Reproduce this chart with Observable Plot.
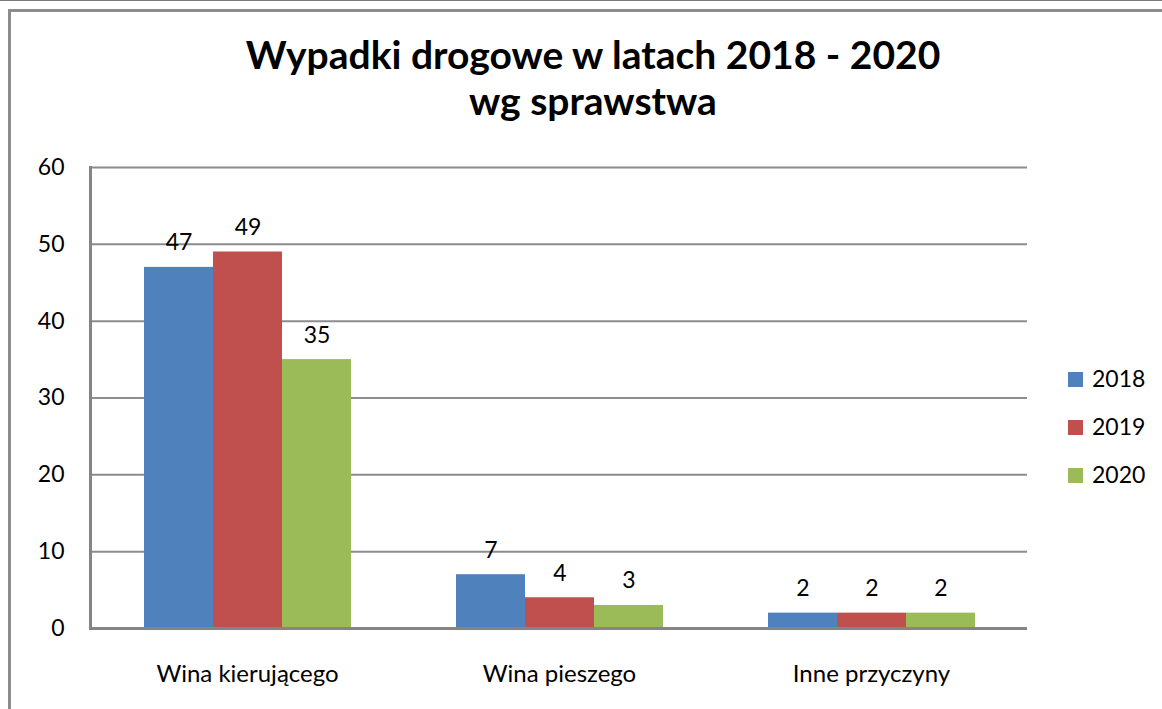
<!DOCTYPE html>
<html>
<head>
<meta charset="utf-8">
<script src="https://cdn.jsdelivr.net/npm/d3@7"></script>
<script src="https://cdn.jsdelivr.net/npm/@observablehq/plot@0.6"></script>
<style>
  html, body { margin: 0; padding: 0; background: #fff; }
  #wrap { position: relative; width: 1162px; height: 709px; overflow: hidden; font-family: Lato, "Open Sans", sans-serif; }
  #topline { position: absolute; left: 0; top: 0; width: 1162px; height: 1px; background: #7a7a7a; }
  #border { position: absolute; left: 8px; top: 9px; width: 1200px; height: 800px; border: 3px solid #8c8c8c; box-sizing: border-box; }
  #title { position: absolute; left: 93px; width: 1000px; top: 31px; text-align: center; font-weight: bold; font-size: 39px; line-height: 46px; color: #000; }
  .layer { position: absolute; left: 0; top: 0; }
  #legend { position: absolute; left: 1068px; top: 364px; font-size: 23px; color: #000; }
  .item { height: 48px; display: flex; align-items: flex-start; }
  .sw { width: 15px; height: 15px; margin-top: 8px; margin-right: 9px; }
</style>
</head>
<body>
<div id="wrap">
  <div id="topline"></div>
  <div id="border"></div>
  <div id="base" class="layer"></div>
  <div id="bars" class="layer"></div>
  <div id="title">Wypadki drogowe w latach 2018 - 2020<br>wg sprawstwa</div>
  <div id="legend"></div>
</div>
<script>
const categories = ["Wina kierującego", "Wina pieszego", "Inne przyczyny"];
const years = ["2018", "2019", "2020"];
const values2018 = [47, 7, 2];
const values2019 = [49, 4, 2];
const values2020 = [35, 3, 2];
const yTicks = [0, 10, 20, 30, 40, 50, 60];
const colors = ["#4F81BD", "#C0504D", "#9BBB59"];

const series = [values2018, values2019, values2020];
const data = categories.flatMap((c, i) => years.map((y, j) => ({category: c, year: y, value: series[j][i]})));

const common = {
  width: 1162,
  height: 709,
  marginLeft: 90,
  marginRight: 135,
  marginTop: 167,
  marginBottom: 81,
  style: {fontFamily: "Lato, 'Open Sans', sans-serif", fontSize: "23px", color: "#000", background: "transparent", overflow: "visible"},
  y: {domain: [0, 60], axis: null}
};

// Base layer: grid, axes, category labels
const base = Plot.plot({
  ...common,
  x: {domain: categories, paddingInner: 1/3, paddingOuter: 1/6, axis: null},
  marks: [
    Plot.ruleY(yTicks.slice(1), {stroke: "#8c8c8c", strokeWidth: 2}),
    Plot.axisY(yTicks, {tickSize: 0, tickPadding: 26, label: null}),
    Plot.axisX({tickSize: 0, tickPadding: 36, label: null, fontSize: 24})
  ]
});
document.getElementById("base").appendChild(base);

// Bars layer: grouped bars via fx facets
const bars = Plot.plot({
  ...common,
  fx: {domain: categories, paddingInner: 1/3, paddingOuter: 1/6, axis: null, label: null},
  x: {domain: years, padding: 0, axis: null},
  color: {domain: years, range: colors},
  marks: [
    Plot.barY(data, {fx: "category", x: "year", y: "value", fill: "year"}),
    Plot.text(data, {fx: "category", x: "year", y: "value", text: d => String(d.value), lineAnchor: "bottom", dy: -17, fill: "#000"})
  ]
});
document.getElementById("bars").appendChild(bars);

// Axis lines on top
const lines = Plot.plot({
  ...common,
  x: {domain: categories, paddingInner: 1/3, paddingOuter: 1/6, axis: null},
  marks: [
    Plot.ruleY([0], {stroke: "#858585", strokeWidth: 3}),
    Plot.frame({anchor: "left", stroke: "#858585", strokeWidth: 3})
  ]
});
lines.style.position = "absolute"; lines.style.left = "0"; lines.style.top = "0";
document.getElementById("bars").appendChild(lines);

const legend = document.getElementById("legend");
years.forEach((y, j) => {
  const item = document.createElement("div");
  item.className = "item";
  const sw = document.createElement("div");
  sw.className = "sw";
  sw.style.background = colors[j];
  const t = document.createElement("span");
  t.textContent = y;
  item.appendChild(sw);
  item.appendChild(t);
  legend.appendChild(item);
});
</script>
</body>
</html>
